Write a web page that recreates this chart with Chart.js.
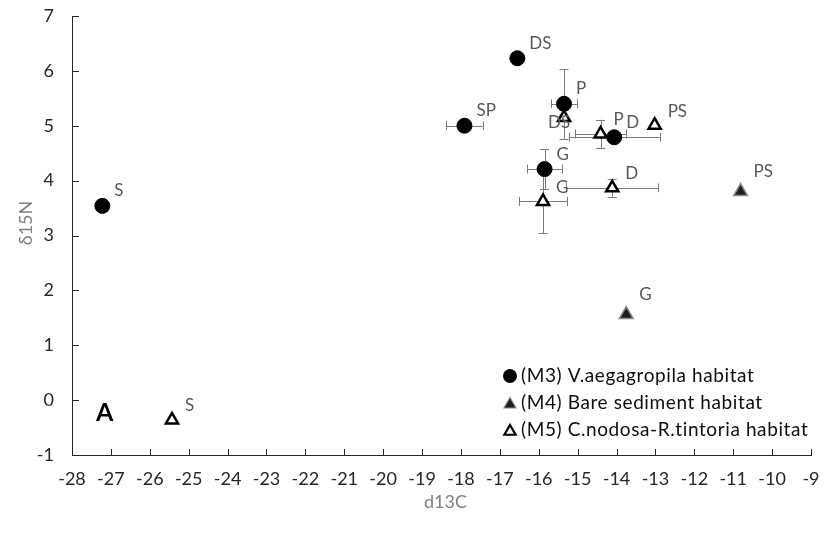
<!DOCTYPE html>
<html>
<head>
<meta charset="utf-8">
<script src="https://cdn.jsdelivr.net/npm/chart.js@4/dist/chart.umd.min.js"></script>
<style>
  html, body { margin: 0; padding: 0; background: #ffffff; }
  #wrap { width: 824px; height: 538px; }
</style>
</head>
<body>
<div id="wrap"><canvas id="c" width="824" height="538"></canvas></div>
<script>
// Axis ranges (d13C on x, δ15N on y)
const xMin = -28, xMax = -9;
const yMin = -1, yMax = 7;

// Series names
const seriesNames = [
  '(M3) V.aegagropila habitat',
  '(M4) Bare sediment habitat',
  '(M5) C.nodosa-R.tintoria habitat'
];

// (M3) V.aegagropila habitat
const m3Names = ['S', 'SP', 'DS', 'G', 'P', 'D'];
const m3X     = [-27.22, -17.91, -16.55, -15.85, -15.35, -14.06];
const m3Y     = [3.54, 5.00, 6.23, 4.21, 5.40, 4.79];
const m3XErr  = [0, 0.47, 0, 0.44, 0.33, 1.17];
const m3YErr  = [0, 0, 0, 0.36, 0.64, 0];

// (M4) Bare sediment habitat
const m4Names = ['G', 'PS'];
const m4X     = [-13.75, -10.81];
const m4Y     = [1.56, 3.80];
const m4XErr  = [0, 0];
const m4YErr  = [0, 0];

// (M5) C.nodosa-R.tintoria habitat
const m5Names = ['S', 'G', 'DS', 'D', 'P', 'PS'];
const m5X     = [-25.43, -15.89, -15.35, -14.11, -14.41, -13.02];
const m5Y     = [-0.36, 3.62, 5.15, 3.87, 4.85, 5.01];
const m5XErr  = [0, 0.62, 0, 1.18, 0.66, 0];
const m5YErr  = [0, 0.58, 0, 0.16, 0.26, 0];

const FONT = 'Lato, "Open Sans", sans-serif';

function toPoints(xs, ys) {
  return xs.map((x, i) => ({ x: x, y: ys[i] }));
}

// Error bars (whiskers with end caps) drawn behind the markers
const errorBars = {
  id: 'errorBars',
  beforeDatasetsDraw(chart) {
    const ctx = chart.ctx;
    const xs = chart.scales.x, ys = chart.scales.y;
    const cap = 4.5;
    ctx.save();
    ctx.strokeStyle = '#7a7a7a';
    ctx.lineWidth = 1;
    chart.data.datasets.forEach(ds => {
      ds.data.forEach((p, i) => {
        const px = xs.getPixelForValue(p.x);
        const py = ys.getPixelForValue(p.y);
        const ex = ds.xErr[i], ey = ds.yErr[i];
        ctx.beginPath();
        if (ex > 0) {
          const l = xs.getPixelForValue(p.x - ex);
          const r = xs.getPixelForValue(p.x + ex);
          const ly = Math.round(py) + 0.5;
          ctx.moveTo(l, ly); ctx.lineTo(r, ly);
          ctx.moveTo(Math.round(l) + 0.5, py - cap); ctx.lineTo(Math.round(l) + 0.5, py + cap);
          ctx.moveTo(Math.round(r) + 0.5, py - cap); ctx.lineTo(Math.round(r) + 0.5, py + cap);
        }
        if (ey > 0) {
          const t = ys.getPixelForValue(p.y + ey);
          const b = ys.getPixelForValue(p.y - ey);
          const cx = Math.round(px) + 0.5;
          ctx.moveTo(cx, t); ctx.lineTo(cx, b);
          ctx.moveTo(px - cap, Math.round(t) + 0.5); ctx.lineTo(px + cap, Math.round(t) + 0.5);
          ctx.moveTo(px - cap, Math.round(b) + 0.5); ctx.lineTo(px + cap, Math.round(b) + 0.5);
        }
        ctx.stroke();
      });
    });
    ctx.restore();
  }
};

// Site code next to each marker
const pointNames = {
  id: 'pointNames',
  afterDatasetsDraw(chart) {
    const ctx = chart.ctx;
    ctx.save();
    ctx.font = '17px ' + FONT;
    ctx.fillStyle = '#595959';
    ctx.textAlign = 'left';
    ctx.textBaseline = 'middle';
    chart.data.datasets.forEach((ds, di) => {
      const meta = chart.getDatasetMeta(di);
      meta.data.forEach((el, i) => {
        const name = ds.names[i];
        const off = (ds.labelShift && ds.labelShift[name]) || ds.labelOffset;
        ctx.fillText(name, el.x + off.dx, el.y + off.dy);
      });
    });
    ctx.restore();
  }
};

function triPath(ctx, x, y, r) {
  ctx.beginPath();
  ctx.moveTo(x, y - r);
  ctx.lineTo(x + r * 0.866, y + r * 0.5);
  ctx.lineTo(x - r * 0.866, y + r * 0.5);
  ctx.closePath();
}

// Inward tick marks, axis titles, panel letter and legend box
const decorations = {
  id: 'decorations',
  afterDraw(chart) {
    const ctx = chart.ctx;
    const a = chart.chartArea;
    const xs = chart.scales.x, ys = chart.scales.y;
    ctx.save();

    ctx.strokeStyle = '#262626';
    ctx.lineWidth = 1;
    ctx.beginPath();
    xs.ticks.forEach(t => {
      const px = Math.round(xs.getPixelForValue(t.value)) + 0.5;
      ctx.moveTo(px, a.bottom); ctx.lineTo(px, a.bottom - 6);
    });
    ys.ticks.forEach(t => {
      const py = Math.round(ys.getPixelForValue(t.value)) + 0.5;
      ctx.moveTo(a.left, py); ctx.lineTo(a.left + 7, py);
    });
    ctx.stroke();

    // axis titles
    ctx.fillStyle = '#808080';
    ctx.font = '18px ' + FONT;
    ctx.textAlign = 'center';
    ctx.textBaseline = 'middle';
    ctx.fillText('d13C', (a.left + a.right) / 2 + 4, 502);
    ctx.save();
    ctx.translate(26, 223);
    ctx.rotate(-Math.PI / 2);
    ctx.fillText('δ15N', 0, 0);
    ctx.restore();

    // panel letter
    ctx.fillStyle = '#000000';
    ctx.font = 'bold 25px ' + FONT;
    ctx.textAlign = 'left';
    ctx.fillText('A', a.left + 24, 413);

    // legend
    const lx = 510, rows = [376, 403, 430];
    ctx.fillStyle = '#000000';
    ctx.beginPath();
    ctx.arc(lx, rows[0], 7, 0, Math.PI * 2);
    ctx.fill();

    triPath(ctx, lx, rows[1] + 1.5, 7);
    ctx.fillStyle = '#1e1e1e';
    ctx.fill();
    ctx.strokeStyle = '#8a8a8a';
    ctx.lineWidth = 1.2;
    ctx.stroke();

    triPath(ctx, lx, rows[2] + 1.5, 6.5);
    ctx.fillStyle = '#ffffff';
    ctx.fill();
    ctx.strokeStyle = '#000000';
    ctx.lineWidth = 2.2;
    ctx.stroke();

    ctx.font = '19px ' + FONT;
    if ('letterSpacing' in ctx) ctx.letterSpacing = '0.6px';
    ctx.fillStyle = '#0d0d0d';
    ctx.textBaseline = 'middle';
    seriesNames.forEach((n, i) => ctx.fillText(n, lx + 11, rows[i]));

    ctx.restore();
  }
};

const chart = new Chart(document.getElementById('c'), {
  type: 'scatter',
  data: {
    datasets: [
      {
        label: seriesNames[0],
        data: toPoints(m3X, m3Y),
        names: m3Names, xErr: m3XErr, yErr: m3YErr,
        labelOffset: { dx: 12, dy: -15 },
        pointStyle: 'circle',
        pointRadius: 7.5, pointHoverRadius: 7.5,
        backgroundColor: '#000000', borderColor: '#000000', borderWidth: 1
      },
      {
        label: seriesNames[1],
        data: toPoints(m4X, m4Y),
        names: m4Names, xErr: m4XErr, yErr: m4YErr,
        labelOffset: { dx: 13, dy: -20 },
        pointStyle: 'triangle',
        pointRadius: 8, pointHoverRadius: 8,
        backgroundColor: '#1e1e1e', borderColor: '#8a8a8a', borderWidth: 1.5
      },
      {
        label: seriesNames[2],
        data: toPoints(m5X, m5Y),
        names: m5Names, xErr: m5XErr, yErr: m5YErr,
        labelOffset: { dx: 13, dy: -14 },
        labelShift: { DS: { dx: -16, dy: 5 } },
        pointStyle: 'triangle',
        pointRadius: 7, pointHoverRadius: 7,
        backgroundColor: '#ffffff', borderColor: '#000000', borderWidth: 2.5
      }
    ]
  },
  options: {
    responsive: false,
    animation: false,
    events: [],
    layout: { padding: { top: 16, right: 13, left: 0, bottom: 0 } },
    plugins: {
      legend: { display: false },
      tooltip: { enabled: false }
    },
    scales: {
      x: {
        type: 'linear',
        min: xMin, max: xMax,
        afterFit(s) { s.height = 83; },
        ticks: {
          stepSize: 1, autoSkip: false, maxRotation: 0,
          color: '#262626', font: { family: FONT, size: 18 }, padding: 0
        },
        grid: { display: true, drawOnChartArea: false, drawTicks: true, tickLength: 13, tickColor: 'rgba(0,0,0,0)' },
        border: { display: true, color: '#262626', width: 1 }
      },
      y: {
        type: 'linear',
        min: yMin, max: yMax,
        afterFit(s) { s.width = 72; },
        ticks: {
          stepSize: 1, autoSkip: false,
          color: '#262626', font: { family: FONT, size: 18 }, padding: 0
        },
        grid: { display: true, drawOnChartArea: false, drawTicks: true, tickLength: 18, tickColor: 'rgba(0,0,0,0)' },
        border: { display: true, color: '#262626', width: 1 }
      }
    }
  },
  plugins: [errorBars, pointNames, decorations]
});
</script>
</body>
</html>
